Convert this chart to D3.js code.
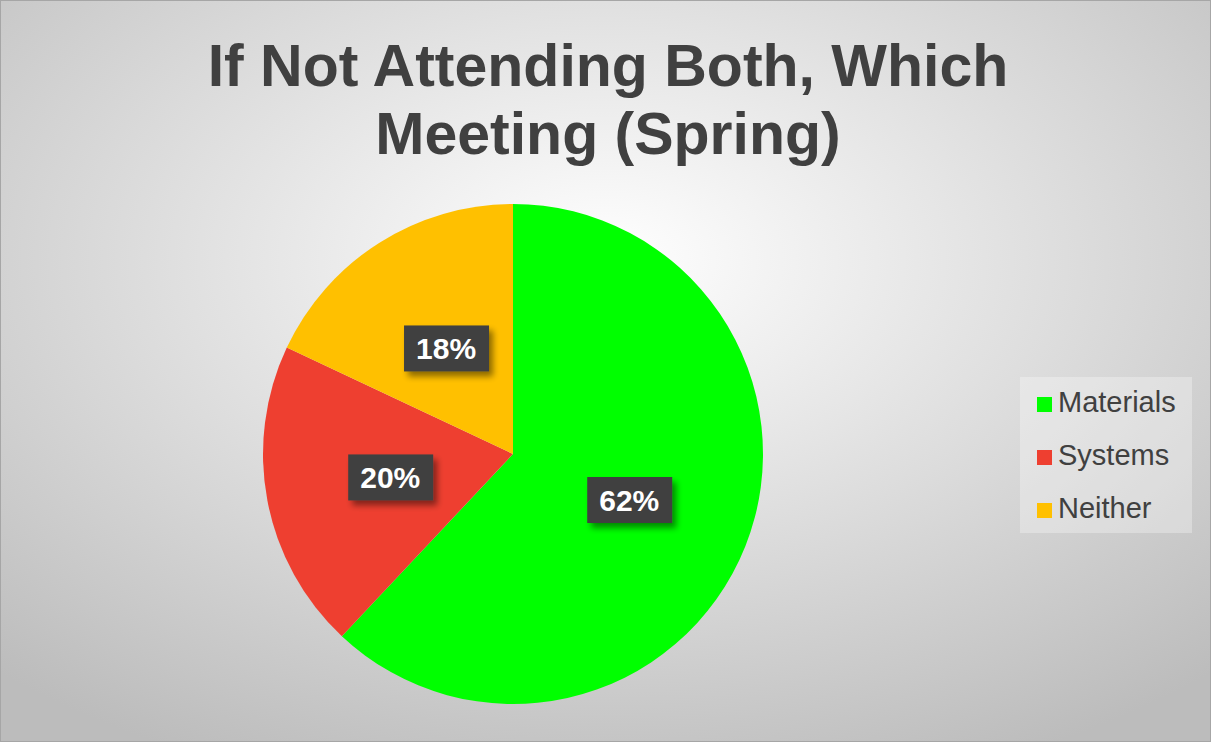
<!DOCTYPE html>
<html>
<head>
<meta charset="utf-8">
<script src="https://cdn.jsdelivr.net/npm/d3@7"></script>
<style>
  body { margin: 0; background: #fff; }
  svg { display: block; }
</style>
</head>
<body>
<script>
// data
var categories = ["Materials", "Systems", "Neither"];
var shares = [62, 20, 18];
var colors = ["#00ff00", "#ee3f30", "#ffc000"];
var titleLines = ["If Not Attending Both, Which", "Meeting (Spring)"];

var width = 1211, height = 742;

var svg = d3.select("body").append("svg")
    .attr("width", width)
    .attr("height", height);

var defs = svg.append("defs");

// chart area background: light radial gradient
var grad = defs.append("radialGradient")
    .attr("id", "bg")
    .attr("cx", "50%").attr("cy", "35%")
    .attr("r", "75%");
grad.append("stop").attr("offset", "0%").attr("stop-color", "#ffffff");
grad.append("stop").attr("offset", "100%").attr("stop-color", "#bcbcbc");

// drop shadow for label boxes
var shadow = defs.append("filter")
    .attr("id", "shadow")
    .attr("x", "-30%").attr("y", "-30%")
    .attr("width", "160%").attr("height", "160%");
shadow.append("feGaussianBlur").attr("in", "SourceAlpha").attr("stdDeviation", 3);
shadow.append("feOffset").attr("dx", 4).attr("dy", 5).attr("result", "off");
shadow.append("feComponentTransfer").append("feFuncA").attr("type", "linear").attr("slope", 0.45);
var merge = shadow.append("feMerge");
merge.append("feMergeNode");
merge.append("feMergeNode").attr("in", "SourceGraphic");

svg.append("rect")
    .attr("x", 0.5).attr("y", 0.5)
    .attr("width", width - 1).attr("height", height - 1)
    .attr("fill", "url(#bg)")
    .attr("stroke", "#a6a6a6");

// title
svg.append("g").selectAll("text")
    .data(titleLines)
  .enter().append("text")
    .attr("x", 608)
    .attr("y", function(d, i) { return 86 + i * 68; })
    .attr("text-anchor", "middle")
    .attr("font-family", "Liberation Sans, Arial, sans-serif")
    .attr("font-weight", "bold")
    .attr("font-size", "59px")
    .attr("fill", "#404040")
    .text(function(d) { return d; });

// pie
var radius = 250;
var g = svg.append("g")
    .attr("transform", "translate(513,454)");

var pie = d3.pie().sort(null).value(function(d) { return d; });
var arc = d3.arc().innerRadius(0).outerRadius(radius);

var arcs = pie(shares);

g.selectAll(".slice")
    .data(arcs)
  .enter().append("path")
    .attr("class", "slice")
    .attr("d", arc)
    .attr("fill", function(d, i) { return colors[i]; });

// data labels
var label = g.selectAll(".lbl")
    .data(arcs)
  .enter().append("g")
    .attr("class", "lbl")
    .attr("transform", function(d) {
      var c = arc.centroid(d);
      return "translate(" + c[0] + "," + c[1] + ")";
    });

label.append("rect")
    .attr("x", -42).attr("y", -23)
    .attr("width", 85).attr("height", 46)
    .attr("fill", "#404040")
    .attr("filter", "url(#shadow)");

label.append("text")
    .attr("text-anchor", "middle")
    .attr("dy", "11px")
    .attr("font-family", "Liberation Sans, Arial, sans-serif")
    .attr("font-weight", "bold")
    .attr("font-size", "30px")
    .attr("fill", "#ffffff")
    .text(function(d) { return d.data + "%"; });

// legend
var legend = svg.append("g")
    .attr("transform", "translate(1020,377)");

legend.append("rect")
    .attr("width", 172).attr("height", 156)
    .attr("fill", "#ffffff")
    .attr("fill-opacity", 0.3);

var item = legend.selectAll(".item")
    .data(categories)
  .enter().append("g")
    .attr("class", "item")
    .attr("transform", function(d, i) { return "translate(0," + (35 + i * 53) + ")"; });

item.append("rect")
    .attr("x", 17).attr("y", -15)
    .attr("width", 15).attr("height", 15)
    .attr("fill", function(d, i) { return colors[i]; });

item.append("text")
    .attr("x", 38)
    .attr("y", 0)
    .attr("font-family", "Liberation Sans, Arial, sans-serif")
    .attr("font-size", "29px")
    .attr("fill", "#404040")
    .text(function(d) { return d; });
</script>
</body>
</html>
